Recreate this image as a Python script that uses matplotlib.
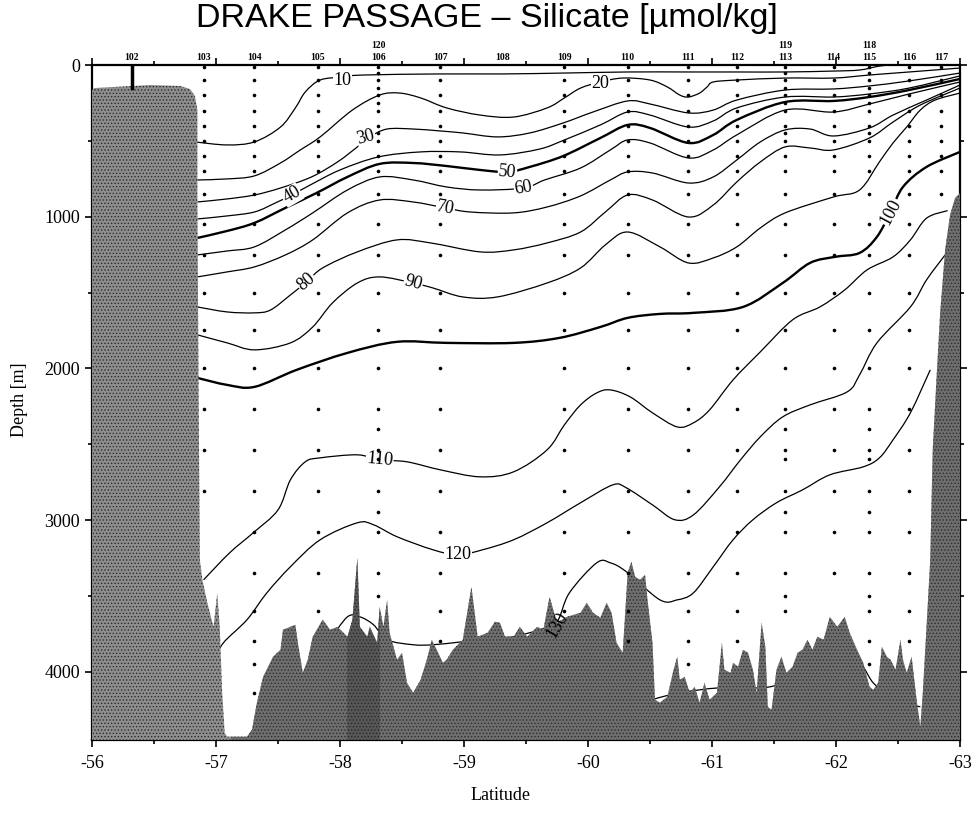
import numpy as np
import matplotlib
matplotlib.use("Agg")
import matplotlib.pyplot as plt
from matplotlib.path import Path
from matplotlib.patches import PathPatch, Polygon

plt.rcParams['font.family'] = ['Liberation Serif', 'DejaVu Serif']
plt.rcParams['hatch.linewidth'] = 0.6

# --- stations -------------------------------------------------------------
station_id = [102, 103, 104, 105, 106, 107, 108, 109, 110, 111, 112, 113, 114, 115, 116, 117]
station_lat = [-56.32, -56.90, -57.31, -57.82, -58.31, -58.81, -59.31, -59.81, -60.32,
               -60.81, -61.20, -61.59, -61.98, -62.27, -62.59, -62.85]
station_bottom = [0, 3050, 4140, 3700, 3410, 3800, 0, 3600, 3800, 3960, 3830, 3710, 3560,
                  4060, 3870, 900]
repeat_id = [120, 119, 118]
repeat_lat = [-58.31, -61.59, -62.27]
bottle_depth = [15, 100, 200, 300, 400, 500, 600, 700, 850, 1050, 1250, 1500, 1750, 2000,
                2270, 2540, 2810, 3080, 3350, 3600, 3800, 3950, 4140]
repeat_depth = [50, 150, 250, 450, 2400, 2600, 2950, 3500]

# --- silicate isolines (latitude, depth m) -------------------------------
lat_10 = [-56.83, -57.09, -57.31, -57.52, -57.64, -57.72, -57.84, -58.02, -58.19, -58.81, -59.31,
          -59.81, -60.32, -60.81, -61.20, -61.59, -61.98, -62.19, -62.35, -62.44]
dep_10 = [507, 527, 507, 409, 283, 178, 99, 79, 66, 59, 59, 53, 46, 46, 46, 46, 40, 33, 7, 0]

lat_20 = [-56.85, -57.09, -57.31, -57.52, -57.68, -57.84, -58.10, -58.32, -58.48, -58.65, -58.86,
          -59.13, -59.40, -59.67, -59.81, -59.94, -60.10, -60.28, -60.50, -60.64, -60.74, -60.81,
          -60.90, -60.96, -61.01, -61.20, -61.59, -61.98, -62.27, -62.59, -63.00]
dep_20 = [758, 751, 731, 646, 560, 474, 297, 198, 185, 217, 283, 330, 343, 283, 217, 152, 112, 86,
          99, 145, 198, 211, 185, 145, 112, 99, 86, 86, 66, 46, 20]

lat_30 = [-56.85, -57.09, -57.31, -57.52, -57.77, -57.98, -58.14, -58.24, -58.38, -58.59, -58.81,
          -58.99, -59.27, -59.53, -59.80, -60.04, -60.32, -60.50, -60.81, -61.01, -61.20, -61.59,
          -61.98, -62.27, -62.59, -63.00]
dep_30 = [903, 883, 857, 811, 738, 639, 540, 474, 422, 422, 435, 448, 474, 448, 382, 310, 237, 257,
          316, 297, 231, 165, 158, 138, 105, 53]

lat_40 = [-56.85, -57.09, -57.31, -57.48, -57.61, -57.76, -58.00, -58.31, -58.65, -58.97, -59.29,
          -59.61, -59.81, -60.10, -60.32, -60.50, -60.81, -61.01, -61.20, -61.59, -61.98, -62.27,
          -62.59, -63.00]
dep_40 = [1015, 995, 969, 909, 857, 791, 692, 606, 573, 573, 593, 554, 494, 395, 310, 330, 409, 369,
          283, 211, 211, 191, 152, 72]

lat_50 = [-56.85, -57.09, -57.31, -57.56, -57.81, -58.06, -58.32, -58.59, -58.86, -59.13, -59.35,
          -59.53, -59.80, -60.10, -60.32, -60.50, -60.81, -61.01, -61.20, -61.59, -61.98, -62.27,
          -62.59, -63.00]
dep_50 = [1140, 1094, 1041, 942, 844, 738, 652, 646, 666, 692, 705, 672, 600, 481, 395, 415, 514,
          461, 362, 244, 237, 211, 165, 92]

lat_60 = [-56.85, -57.09, -57.31, -57.56, -57.78, -58.06, -58.32, -58.59, -58.86, -59.13, -59.48,
          -59.65, -59.94, -60.18, -60.32, -60.50, -60.81, -61.01, -61.20, -61.59, -61.98, -62.27,
          -62.59, -63.00]
dep_60 = [1252, 1226, 1199, 1087, 975, 824, 738, 758, 804, 824, 811, 758, 679, 560, 494, 514, 613,
          560, 461, 297, 310, 257, 191, 112]

lat_70 = [-56.85, -57.09, -57.31, -57.56, -57.78, -58.06, -58.32, -58.59, -58.85, -59.05, -59.40,
          -59.67, -59.94, -60.18, -60.32, -60.52, -60.81, -61.01, -61.20, -61.39, -61.59, -61.79,
          -61.98, -62.27, -62.46, -62.73, -63.00]
dep_70 = [1397, 1364, 1331, 1252, 1153, 975, 890, 903, 942, 969, 975, 936, 863, 758, 705, 712, 778,
          738, 626, 507, 428, 422, 468, 415, 330, 231, 132]

lat_80 = [-56.85, -57.09, -57.31, -57.44, -57.60, -57.73, -57.86, -58.14, -58.46, -58.73, -59.13,
          -59.40, -59.67, -59.94, -60.14, -60.32, -60.52, -60.81, -61.01, -61.20, -61.39, -61.59,
          -61.79, -61.98, -62.27, -62.46, -62.68, -63.00]
dep_80 = [1595, 1628, 1634, 1615, 1516, 1430, 1338, 1232, 1153, 1173, 1232, 1219, 1173, 1101, 969,
          857, 890, 1002, 923, 771, 639, 540, 547, 560, 481, 376, 264, 152]

lat_90 = [-56.85, -57.09, -57.31, -57.60, -57.78, -57.94, -58.14, -58.32, -58.59, -58.75, -58.99,
          -59.27, -59.67, -59.94, -60.14, -60.32, -60.58, -60.81, -61.01, -61.20, -61.39, -61.59,
          -61.98, -62.19, -62.35, -62.46, -62.57, -62.68, -62.80, -63.00]
dep_90 = [1779, 1832, 1878, 1832, 1727, 1568, 1437, 1397, 1437, 1470, 1529, 1529, 1437, 1338, 1186,
          1101, 1199, 1305, 1272, 1199, 1074, 975, 870, 824, 639, 514, 409, 297, 231, 185]

lat_100 = [-56.85, -57.09, -57.31, -57.65, -58.06, -58.46, -58.86, -59.40, -59.77, -60.10, -60.32,
           -60.58, -60.85, -61.25, -61.57, -61.79, -61.99, -62.19, -62.33, -62.44, -62.54, -62.73,
           -63.00]
dep_100 = [2063, 2109, 2122, 2010, 1898, 1825, 1832, 1832, 1799, 1727, 1667, 1641, 1634, 1595, 1437,
           1305, 1265, 1239, 1133, 969, 804, 672, 573]

lat_110 = [-56.90, -57.11, -57.30, -57.50, -57.60, -57.72, -57.84, -58.14, -58.32, -58.54, -58.81,
           -59.13, -59.40, -59.67, -59.81, -59.94, -60.07, -60.18, -60.34, -60.52, -60.72, -60.85,
           -60.98, -61.17, -61.39, -61.65, -61.87, -62.07, -62.25, -62.46, -62.60, -62.73, -62.90]
dep_110 = [3394, 3216, 3084, 2933, 2735, 2616, 2590, 2570, 2603, 2616, 2669, 2715, 2682, 2537, 2372,
           2241, 2162, 2142, 2188, 2293, 2386, 2359, 2274, 2076, 1891, 1680, 1595, 1483, 1351, 1265,
           1153, 1010, 960]

lat_120 = [-56.99, -57.06, -57.25, -57.41, -57.60, -57.84, -58.14, -58.27, -58.46, -58.75, -58.95,
           -59.15, -59.40, -59.67, -59.94, -60.20, -60.31, -60.52, -60.70, -60.85, -61.06, -61.23,
           -61.39, -61.57, -61.79, -62.09, -62.19, -62.33, -62.60, -62.73, -62.88]
dep_120 = [3921, 3809, 3657, 3480, 3308, 3130, 3018, 3031, 3110, 3196, 3229, 3196, 3130, 3018, 2886,
           2768, 2788, 2900, 2998, 2966, 2781, 2603, 2451, 2320, 2241, 2155, 2043, 1832, 1595, 1417,
           1252]

lat_130 = [-57.92, -58.06, -58.16, -58.27, -58.38, -58.59, -58.75, -58.99, -59.27, -59.40, -59.61,
           -59.75, -59.85, -60.07, -60.18, -60.31, -60.58, -60.72, -60.85, -61.01, -61.17, -61.33,
           -61.52, -61.73, -61.95, -62.22, -62.35, -62.46, -62.60, -62.76]
dep_130 = [3789, 3638, 3638, 3690, 3789, 3822, 3822, 3802, 3776, 3769, 3723, 3670, 3480, 3282, 3282,
           3341, 3526, 3526, 3480, 3308, 3130, 2998, 2886, 2801, 2702, 2649, 2590, 2471, 2293, 2010]

lat_130b = [-60.42, -60.52, -60.74, -61.06, -61.47, -61.71, -61.95, -62.07, -62.14, -62.22, -62.30,
            -62.41, -62.54, -62.68]
dep_130b = [4237, 4185, 4139, 4106, 4099, 4000, 3855, 3822, 3875, 3967, 4073, 4139, 4204, 4231]

# contour labels
label_text = ['10', '20', '30', '40', '50', '60', '70', '80', '90', '100', '110', '120', '130']
label_lat = [-58.02, -60.10, -58.21, -57.61, -59.35, -59.48, -58.85, -57.73, -58.59, -62.44,
             -58.32, -58.95, -59.75]
label_depth = [99, 119, 474, 857, 705, 811, 942, 1430, 1437, 969, 2603, 3229, 3690]
label_rot = [0, 0, 15, 30, -5, 10, -10, 40, -15, 62, -5, 0, 60]

# --- bottom topography ------------------------------------------------------
bathy_lat = [-56.00, -56.00, -56.02, -56.47, -56.71, -56.79, -56.83, -56.85, -56.85, -56.86, -56.87,
             -56.89, -56.93, -56.98, -57.01, -57.03, -57.05, -57.07, -57.09, -57.25, -57.29, -57.33,
             -57.38, -57.46, -57.52, -57.54, -57.60, -57.64, -57.66, -57.70, -57.74, -57.78, -57.86,
             -57.92, -57.98, -58.06, -58.10, -58.14, -58.16, -58.22, -58.24, -58.30, -58.32, -58.35,
             -58.38, -58.40, -58.46, -58.50, -58.54, -58.59, -58.65, -58.70, -58.74, -58.78, -58.83,
             -58.86, -58.91, -58.99, -59.06, -59.11, -59.19, -59.25, -59.29, -59.33, -59.40, -59.45,
             -59.51, -59.59, -59.64, -59.69, -59.75, -59.83, -59.94, -59.99, -60.04, -60.10, -60.15,
             -60.19, -60.23, -60.28, -60.32, -60.35, -60.38, -60.42, -60.46, -60.48, -60.52, -60.54,
             -60.58, -60.64, -60.69, -60.72, -60.74, -60.78, -60.82, -60.86, -60.90, -60.94, -60.98,
             -61.04, -61.08, -61.10, -61.15, -61.17, -61.21, -61.25, -61.29, -61.33, -61.36, -61.40,
             -61.43, -61.45, -61.48, -61.52, -61.56, -61.60, -61.65, -61.69, -61.73, -61.77, -61.81,
             -61.85, -61.90, -61.95, -62.01, -62.07, -62.11, -62.17, -62.22, -62.27, -62.30, -62.34,
             -62.37, -62.41, -62.44, -62.48, -62.52, -62.54, -62.57, -62.61, -62.65, -62.68, -62.70,
             -62.73, -62.76, -62.78, -62.81, -62.84, -62.88, -62.92, -62.96, -63.00, -63.00]
bathy_depth = [4450, 165, 152, 132, 138, 158, 204, 297, 890, 2208, 3262,
               3394, 3545, 3704, 3480, 3704, 4139, 4402, 4428, 4428, 4382, 4204,
               4033, 3901, 3855, 3723, 3704, 3690, 3809, 4007, 3921, 3769, 3657,
               3723, 3704, 3769, 3657, 3249, 3704, 3769, 3704, 3809, 3572, 3704,
               3526, 3743, 3921, 3875, 4073, 4139, 4053, 3921, 3789, 3855, 3941,
               3921, 3855, 3789, 3440, 3769, 3743, 3670, 3677, 3769, 3769, 3704,
               3769, 3704, 3723, 3506, 3677, 3638, 3611, 3545, 3611, 3644, 3545,
               3611, 3809, 3875, 3348, 3275, 3374, 3394, 3361, 3526, 3809, 4185,
               4204, 4165, 3987, 3901, 4053, 4033, 4139, 4099, 4204, 4073, 4185,
               4139, 3809, 3987, 4007, 3941, 3967, 3855, 3875, 3987, 4139, 3677,
               3835, 4231, 4251, 3987, 3901, 4007, 3967, 3875, 3855, 3789, 3855,
               3769, 3789, 3638, 3704, 3638, 3743, 3855, 3941, 4099, 4119, 4073,
               3835, 3901, 3921, 3987, 3789, 3921, 4007, 3901, 4185, 4363, 4139,
               3704, 3262, 2537, 2076, 1634, 1219, 989, 877, 844, 4450]


def smooth_path(lats, depths):
    # Catmull-Rom through the points, handed to matplotlib as cubic Bezier segments
    p = np.column_stack([lats, depths]).astype(float)
    ext = np.vstack([p[0], p, p[-1]])
    verts = [p[0]]
    codes = [Path.MOVETO]
    for i in range(len(p) - 1):
        p0, p1, p2, p3 = ext[i], ext[i + 1], ext[i + 2], ext[i + 3]
        verts += [p1 + (p2 - p0) / 6.0, p2 - (p3 - p1) / 6.0, p2]
        codes += [Path.CURVE4] * 3
    return Path(verts, codes)


isolines = [(10, lat_10, dep_10), (20, lat_20, dep_20), (30, lat_30, dep_30),
            (40, lat_40, dep_40), (50, lat_50, dep_50), (60, lat_60, dep_60),
            (70, lat_70, dep_70), (80, lat_80, dep_80), (90, lat_90, dep_90),
            (100, lat_100, dep_100), (110, lat_110, dep_110), (120, lat_120, dep_120),
            (130, lat_130, dep_130), (130, lat_130b, dep_130b)]

fig = plt.figure(figsize=(9.72, 8.13), dpi=100)
ax = fig.add_axes([92 / 972, 1 - 740 / 813, 868 / 972, 675 / 813])
ax.set_xlim(-56, -63)
ax.set_ylim(4450, 0)

for level, la, de in isolines:
    lw = 1.7 if level % 50 == 0 else 0.9
    ax.add_patch(PathPatch(smooth_path(la, de), fill=False, lw=lw, color='k', zorder=2))

# sea floor: grey stipple, ridges and southern slope darker
floor = Polygon(np.column_stack([bathy_lat, bathy_depth]), closed=True, facecolor='#8e8e8e',
                edgecolor='#2a2a2a', hatch='.....', lw=0, zorder=3)
ax.add_patch(floor)
ridge = ax.axvspan(-57.12, -63.0, color='#333333', alpha=0.35, lw=0, zorder=3.1)
ridge.set_clip_path(floor)
band = ax.axvspan(-58.06, -58.32, color='#222222', alpha=0.3, lw=0, zorder=3.2)
band.set_clip_path(floor)

for txt, la, de, rot in zip(label_text, label_lat, label_depth, label_rot):
    box = None if txt == '130' else dict(facecolor='white', edgecolor='none', pad=0.5)
    ax.text(la, de, txt, rotation=rot, ha='center', va='center', fontsize=13,
            bbox=box, zorder=4)

# sampling depths
for sid, la, bot in zip(station_id, station_lat, station_bottom):
    d = [z for z in bottle_depth if z <= bot]
    if d:
        ax.plot([la] * len(d), d, 'o', ms=2.6, color='k', mec='none', zorder=5)
for la in repeat_lat:
    ax.plot([la] * len(repeat_depth), repeat_depth, 'o', ms=2.6, color='k', mec='none', zorder=5)
ax.plot([station_lat[0]] * 2, [0, 150], color='k', lw=2.5, zorder=5)

# station numbers along the top
for sid, la in zip(station_id, station_lat):
    ax.text(la, 1.004, str(sid), transform=ax.get_xaxis_transform(), ha='center', va='bottom',
            fontsize=7, fontweight='bold')
for sid, la in zip(repeat_id, repeat_lat):
    ax.text(la, 1.022, str(sid), transform=ax.get_xaxis_transform(), ha='center', va='bottom',
            fontsize=7, fontweight='bold')

xt = np.arange(-56, -64, -1)
ax.set_xticks(xt)
ax.set_xticklabels(['%d' % v for v in xt])
ax.set_xticks(np.arange(-56.5, -63, -0.5), minor=True)
ax.set_yticks(np.arange(0, 4001, 1000))
ax.set_yticklabels(['%d' % v for v in np.arange(0, 4001, 1000)])
ax.set_yticks(np.arange(500, 4450, 1000), minor=True)
ax.tick_params(which='both', direction='out', top=True, right=True, width=1.2, labelsize=13)
ax.tick_params(which='major', length=5)
ax.tick_params(which='minor', length=3)
ax.tick_params(axis='x', pad=6)
for s in ax.spines.values():
    s.set_linewidth(1.6)

fig.text(487 / 972, 1 - 19 / 813, 'DRAKE PASSAGE – Silicate [µmol/kg]', ha='center', va='center',
         fontsize=24.5, family='Liberation Sans')
fig.text(20 / 972, 1 - 400 / 813, 'Depth [m]', rotation=90, ha='center', va='center', fontsize=13)
fig.text(501 / 972, 1 - 795 / 813, 'Latitude', ha='center', va='center', fontsize=13)

fig.savefig('out.png', dpi=100)
